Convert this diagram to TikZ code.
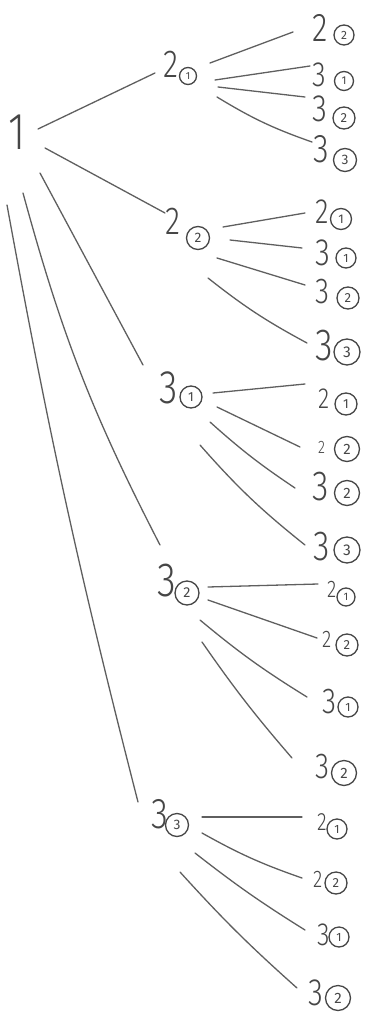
\documentclass[tikz,border=0pt]{standalone}
\usepackage{graphicx}
\usepackage{fontspec}
\setmainfont{Fira Sans}[UprightFont={* Light}]
\newfontfamily\circfont{Fira Sans}
\definecolor{ink}{RGB}{70,70,70}
\definecolor{pencil}{RGB}{95,95,95}
\tikzset{
  dig/.style={anchor=base west, inner sep=0pt, text=ink, font=\fontsize{#1}{#1}\selectfont},
  circnum/.style={circle, draw=ink, line width=1.3pt, minimum size=#1, inner sep=0pt, text=ink,
    font=\circfont\fontsize{\fpeval{0.6*#1}}{\fpeval{0.6*#1}}\selectfont},
  conn/.style={draw=pencil, line width=1.3pt, line cap=round},
}
% name, x, y (base west of digit), digit size, digit, circled digit, circle x, circle y, circle diameter
\newcommand\lab[9]{\node[dig=#4] (#1) at (#2,#3) {\scalebox{0.8}[1]{#5}};
  \node[circnum=#9] (#1c) at (#7,#8) {#6};}
% [to options], parent, offset, child, offset
\newcommand\link[5][]{\draw[conn] ([shift={(#3)}]#2.base west) to[#1] ([shift={(#5)}]#4.base west);}
\begin{document}
\begin{tikzpicture}[x=1pt,y=-1pt]
\useasboundingbox (0,0) rectangle (371,1016);
\node[dig=52] (r) at (8,150) {\scalebox{0.8}[1]{1}};
\lab{a}{163}{78}{39}{2}{1}{188}{76}{17}
\lab{b}{165}{235}{39}{2}{2}{198}{238}{23}
\lab{c}{159}{403}{47}{3}{1}{191}{397}{22}
\lab{d}{157}{596}{48}{3}{2}{187}{593}{24}
\lab{e}{151}{828}{43}{3}{3}{177}{825}{23}
\lab{a1}{312}{42}{40}{2}{2}{344}{35}{20}
\lab{a2}{312}{87}{35}{3}{1}{344}{81}{19}
\lab{a3}{312}{122}{38}{3}{2}{344}{118}{22}
\lab{a4}{313}{163}{40}{3}{3}{345}{160}{23}
\lab{b1}{315}{223}{35}{2}{1}{341}{219}{21}
\lab{b2}{315}{265}{38}{3}{1}{346}{258}{20}
\lab{b3}{315}{303}{36}{3}{2}{348}{298}{22}
\lab{b4}{315}{360}{45}{3}{3}{347}{352}{26}
\lab{c1}{318}{408}{29}{2}{1}{346}{404}{22}
\lab{c2}{318}{453}{18}{2}{2}{347}{449}{25}
\lab{c3}{312}{500}{42}{3}{2}{347}{493}{25}
\lab{c4}{313}{560}{42}{3}{3}{347}{550}{26}
\lab{d1}{327}{597}{24}{2}{1}{346}{597}{18}
\lab{d2}{322}{647}{24}{2}{2}{347}{645}{22}
\lab{d3}{322}{713}{36}{3}{1}{348}{707}{20}
\lab{d4}{315}{778}{36}{3}{2}{344}{773}{25}
\lab{e1}{317}{830}{25}{2}{1}{337}{829}{20}
\lab{e2}{313}{887}{24}{2}{2}{336}{883}{22}
\lab{e3}{317}{945}{32}{3}{1}{339}{937}{20}
\lab{e4}{308}{1005}{38}{3}{2}{338}{998}{25}
% root to first level
\link{r}{30,-21}{a}{-8,-5}
\link{r}{37,-2}{b}{0,-22}
\link{r}{32,23}{c}{-16,-38}
\link[bend right=6]{r}{15,43}{d}{3,-51}
\link[bend right=2]{r}{-1,55}{e}{-13,-26}
% from 2 (1)
\link{a}{47,-15}{a1}{-19,-10}
\link{a}{52,2}{a2}{-2,-21}
\link{a}{55,9}{a3}{-7,-25}
\link[bend right=6]{a}{54,19}{a4}{-1,-21}
% from 2 (2)
\link{b}{58,-8}{b1}{-10,-10}
\link{b}{65,5}{b2}{-13,-17}
\link{b}{52,23}{b3}{-10,-18}
\link[bend right=5]{b}{43,43}{b4}{-8,-17}
% from 3 (1)
\link{c}{54,-10}{c1}{-13,-24}
\link{c}{58,4}{c2}{-18,-6}
\link[bend right=4]{c}{51,19}{c3}{-17,-12}
\link[bend right=5]{c}{41,42}{c4}{-8,-15}
% from 3 (2)
\link{d}{51,-9}{d1}{-9,-13}
\link{d}{51,4}{d2}{-5,-9}
\link[bend right=4]{d}{43,24}{d3}{-15,-16}
\link[bend right=3]{d}{45,46}{d4}{-23,-20}
% from 3 (3)
\link{e}{51,-11}{e1}{-15,-13}
\link[bend right=5]{e}{51,5}{e2}{-11,-9}
\link[bend right=3]{e}{44,25}{e3}{-12,-15}
\link[bend right=3]{e}{29,44}{e4}{-11,-17}
\end{tikzpicture}
\end{document}
